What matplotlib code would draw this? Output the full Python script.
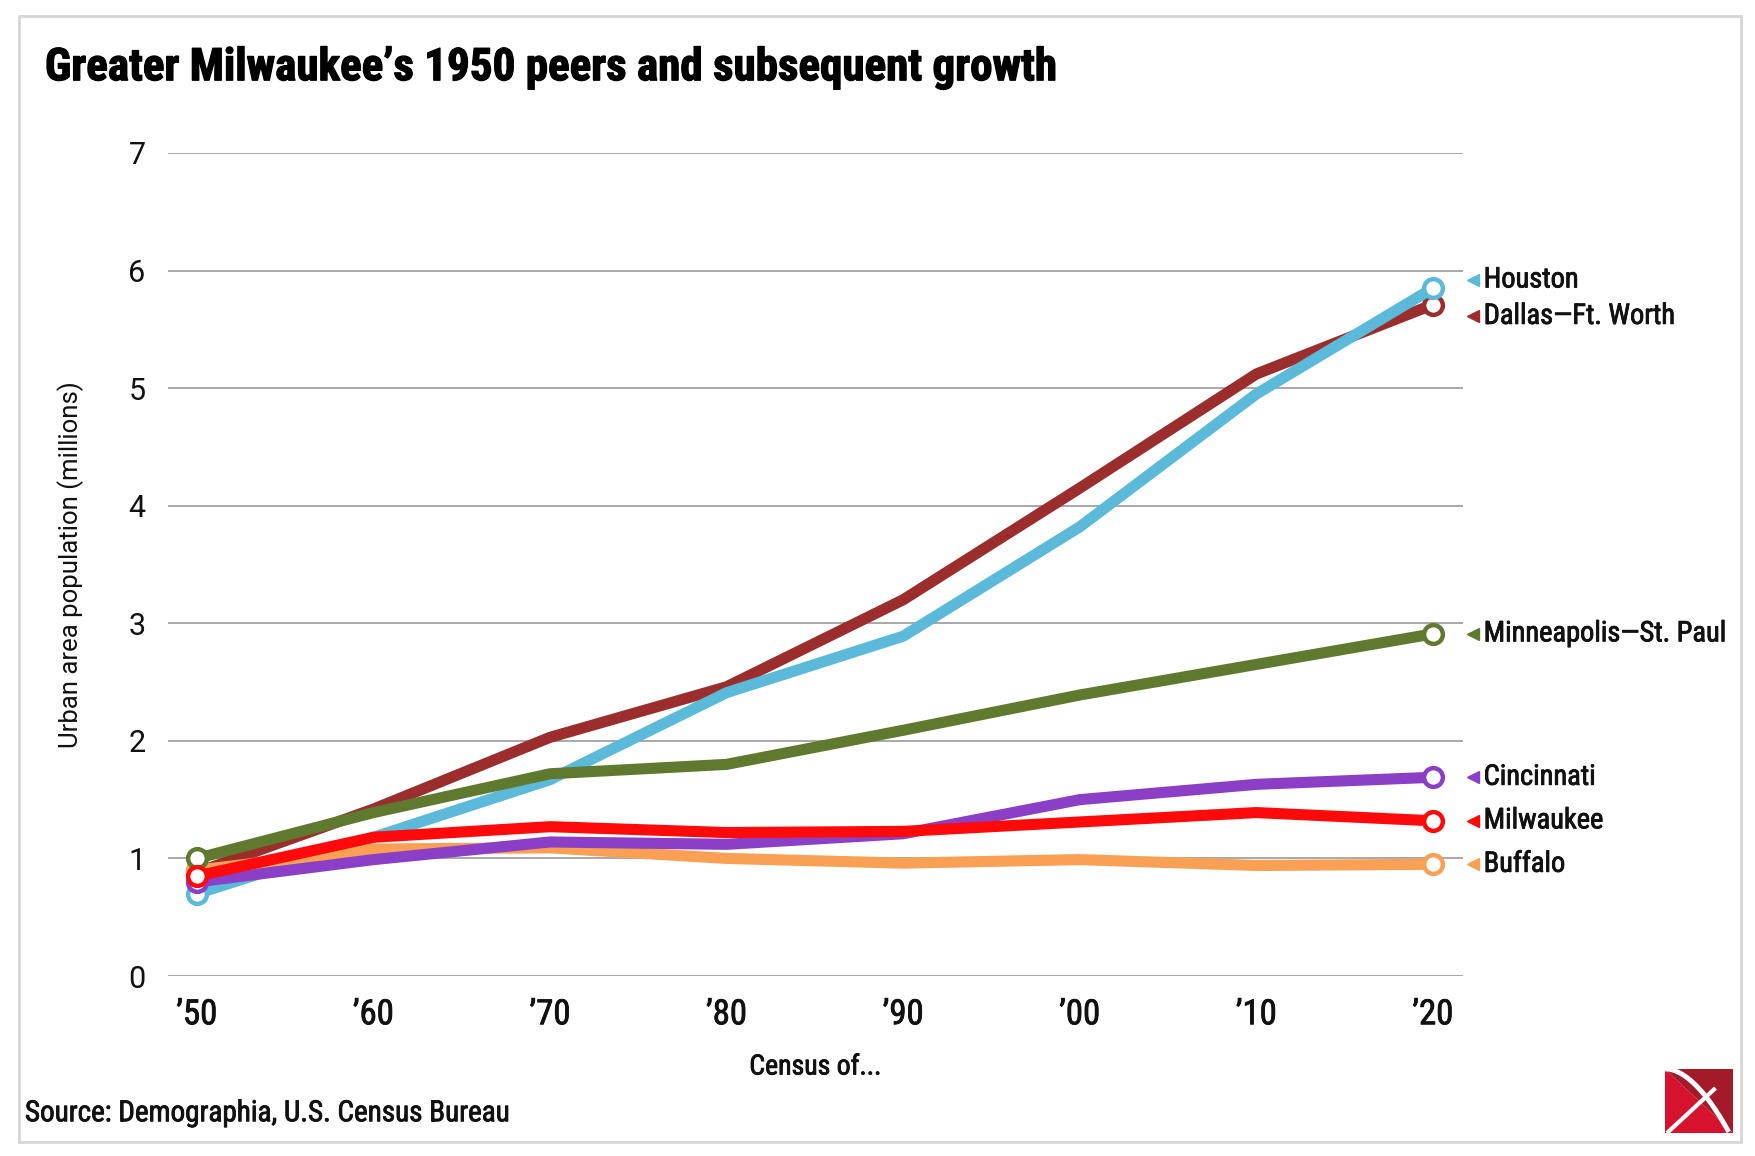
import matplotlib
matplotlib.use("Agg")
import matplotlib.pyplot as plt
from matplotlib.patches import Rectangle, Polygon
import matplotlib.transforms as mtransforms
import matplotlib.patheffects as pe
import numpy as np

# ---- data ----
years = ["\u201950", "\u201960", "\u201970", "\u201980", "\u201990", "\u201900", "\u201910", "\u201920"]
houston = [0.70, 1.18, 1.67, 2.41, 2.89, 3.82, 4.95, 5.85]
dallas = [0.88, 1.42, 2.03, 2.46, 3.20, 4.15, 5.12, 5.71]
minneapolis = [1.00, 1.39, 1.72, 1.80, 2.09, 2.39, 2.65, 2.91]
cincinnati = [0.80, 0.99, 1.14, 1.12, 1.21, 1.50, 1.63, 1.69]
milwaukee = [0.85, 1.18, 1.27, 1.22, 1.23, 1.31, 1.39, 1.32]
buffalo = [0.90, 1.08, 1.09, 1.00, 0.96, 0.99, 0.94, 0.95]

names = ["Dallas\u2014Ft. Worth", "Houston", "Buffalo", "Cincinnati", "Minneapolis\u2014St. Paul", "Milwaukee"]
series = [dallas, houston, buffalo, cincinnati, minneapolis, milwaukee]
colors = ["#9B2D2D", "#5BB9D9", "#F9A055", "#8B3EC6", "#5F7A2F", "#FF0A0A"]
label_shift = {"Houston": 0.07, "Dallas\u2014Ft. Worth": -0.10}

yticks = [0, 1, 2, 3, 4, 5, 6, 7]
title = "Greater Milwaukee\u2019s 1950 peers and subsequent growth"
ylabel = "Urban area population (millions)"
xlabel = "Census of..."
source = "Source: Demographia, U.S. Census Bureau"

NARROW = ["Roboto Condensed", "Liberation Sans Narrow", "DejaVu Sans"]
ROBOTO = ["Roboto", "DejaVu Sans"]
INK = "#111111"

fig = plt.figure(figsize=(17.55, 11.56), dpi=100)
fig.patch.set_facecolor("white")

ax = fig.add_axes([0.0957, 0.1557, 0.7379, 0.7120])
x = np.arange(len(years))
ax.set_xlim(-0.164, 7.170)
ax.set_ylim(0, 7)

for yv in yticks:
    ax.axhline(yv, color="#a8a8a8", lw=1.4, zorder=1)

thick = [pe.withStroke(linewidth=0.6, foreground=INK)]

fit_items = []
for i, (name, vals, c) in enumerate(zip(names, series, colors)):
    ax.plot(x, vals, color=c, lw=8.0, solid_joinstyle="miter", solid_capstyle="butt",
            zorder=3 + i, clip_on=False)
    ax.plot([x[0], x[-1]], [vals[0], vals[-1]], ls="none", marker="o", ms=13.5,
            mfc="white", mec=c, mew=3.2, zorder=3 + i, clip_on=False)
    trans = mtransforms.blended_transform_factory(ax.transAxes, ax.transData)
    ly = vals[-1] + label_shift.get(name, 0.0)
    ax.plot([1.0075], [ly], marker="<", ms=8, color=c, ls="none", transform=trans,
            clip_on=False)
    t = ax.text(1.016, ly, name, transform=trans, ha="left", va="center",
                fontsize=20, family=NARROW, color=INK, path_effects=thick)
    fit_items.append((t, 242 if name.startswith("Minneapolis") else None))

for s in ax.spines.values():
    s.set_visible(False)
ax.tick_params(axis="both", length=0)
ax.set_yticks(yticks)
ax.set_yticklabels([str(v) for v in yticks], family=ROBOTO, fontsize=22, color=INK)
ax.tick_params(axis="y", pad=16)
ax.set_xticks(x)
ax.set_xticklabels(years, family=NARROW, fontsize=25, color=INK)
for lab in ax.get_xticklabels():
    lab.set_path_effects(thick)
ax.tick_params(axis="x", pad=16)
ax.set_xlabel(xlabel, family=NARROW, fontsize=20, color=INK, labelpad=16,
              path_effects=thick)
ax.set_ylabel(ylabel, family=ROBOTO, fontsize=18.5, color=INK, labelpad=32)

title_t = fig.text(0.0256, 0.941, title, family=NARROW, fontweight="bold", fontsize=34,
                   ha="left", va="center", color="black",
                   path_effects=[pe.withStroke(linewidth=0.9, foreground="black")])
source_t = fig.text(0.0142, 0.037, source, family=NARROW, fontsize=19, ha="left",
                    va="center", color=INK, path_effects=thick)

# fit text widths to the reference layout
fig.canvas.draw()
r = fig.canvas.get_renderer()
def fit(t, target):
    w = t.get_window_extent(r).width
    t.set_fontsize(t.get_fontsize() * target / w)
    return t.get_fontsize()
fit(title_t, 1012)
fit(source_t, 485)
fs = 20
for t, target in fit_items:
    if target:
        fs = fit(t, target)
for t, target in fit_items:
    t.set_fontsize(fs)

# border
fig.patches.append(Rectangle((0.0108, 0.0121), 0.9812, 0.9740, transform=fig.transFigure,
                             fill=False, edgecolor="#d6d6d6", lw=2))

# logo (square with pickaxe)
x0, x1 = 1665 / 1755, 1733 / 1755
y0, y1 = 1 - 1133 / 1156, 1 - 1069 / 1156
fig.patches.append(Polygon([(x0, y0), (x1, y0), (x0, y1)], closed=True,
                           transform=fig.transFigure, color="#D6122F", lw=0))
fig.patches.append(Polygon([(x1, y0), (x1, y1), (x0, y1)], closed=True,
                           transform=fig.transFigure, color="#A31A2B", lw=0))
w, h = x1 - x0, y1 - y0
tt = np.linspace(0, 1, 30)
arc_x = x0 + w * (0.02 + 0.90 * tt)
arc_y = y1 - h * (0.0 + 0.95 * tt ** 1.8)
fig.lines.append(plt.Line2D(arc_x, arc_y, transform=fig.transFigure, color="white", lw=3.5))
fig.lines.append(plt.Line2D([x0 + 0.05 * w, x0 + 0.72 * w], [y0 + 0.02 * h, y0 + 0.68 * h],
                            transform=fig.transFigure, color="white", lw=3))

fig.savefig("out.png", dpi=100, facecolor="white")
